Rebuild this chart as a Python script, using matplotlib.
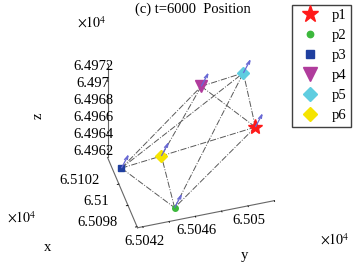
import matplotlib
matplotlib.use("Agg")
import matplotlib.pyplot as plt
from matplotlib.ticker import FuncFormatter

plt.rcParams['font.family'] = ['Liberation Serif', 'DejaVu Serif']
plt.rcParams['mathtext.fontset'] = 'stix'

# positions of the six points at t=6000 (m)
names = ['p1', 'p2', 'p3', 'p4', 'p5', 'p6']
px = [65100.9, 65099.0, 65102.6, 65102.4, 65102.1, 65100.75]
py = [65051.6, 65044.8, 65042.0, 65048.0, 65051.1, 65044.4]
pz = [64966.0, 64961.0, 64962.0, 64970.0, 64971.0, 64965.0]

# velocity direction arrows
vx = [0.0, 0.0, 0.0, 0.0, 0.0, 0.0]
vy = [0.5, 0.5, 0.5, 0.5, 0.5, 0.5]
vz = [1.3, 1.3, 1.3, 1.3, 1.3, 1.3]

# links between points (index pairs)
links = [(0, 1), (0, 3), (0, 4), (0, 5),
         (2, 1), (2, 3), (2, 4), (2, 5),
         (1, 4), (1, 5), (3, 4), (3, 5)]

markers = ['*', 'o', 's', 'v', 'D', 'D']
colors = ['#ff1a1a', '#3cb83c', '#1f3f9f', '#b03c9c', '#5fcde0', '#f5e400']
msizes = [11, 4, 4.5, 9, 6.5, 6.5]

xticks = [65098, 65100, 65102]
yticks = [65042, 65044, 65046, 65048, 65050, 65052]
ylabeled = [65042, 65046, 65050]
zticks = [64962, 64964, 64966, 64968, 64970, 64972]

xlim = (65097.9, 65104.5)
ylim = (65041.6, 65052.0)
zlim = (64961.0, 64972.0)


def lab(v):
    return f"{round(v / 1e4, 4):g}"


fig = plt.figure(figsize=(3.54, 2.65), dpi=100)
ax = fig.add_axes([0.155, 0.029, 0.75, 0.92], projection='3d')
ax.set_proj_type('ortho')

for i, j in links:
    ax.plot([px[i], px[j]], [py[i], py[j]], [pz[i], pz[j]],
            color='0.35', lw=0.7, ls='-.')

ax.quiver(px, py, pz, vx, vy, vz, color='#6868d4', lw=0.9,
          arrow_length_ratio=0.35)

for k in range(6):
    ax.plot([px[k]], [py[k]], [pz[k]], ls='none', marker=markers[k],
            color=colors[k], mec=colors[k], ms=msizes[k], label=names[k])

ax.set_xlim(*xlim)
ax.set_ylim(ylim[1], ylim[0])
ax.set_zlim(*zlim)
ax.set_box_aspect((107, 142, 128), zoom=0.875)
ax.view_init(elev=43, azim=163.8)
ax.zaxis.set_ticks_position('lower')

ax.set_xticks(xticks)
ax.set_xticklabels([''] * len(xticks))
ax.set_yticks(yticks)
ax.set_yticklabels([''] * len(yticks))
ax.set_zticks(zticks)
ax.zaxis.set_major_formatter(FuncFormatter(lambda v, p: lab(v)))

# x and y tick labels placed next to their ticks, as in the original
for v in xticks:
    ax.text(v, ylim[0] - 1.45, zlim[0] + 0.9, lab(v), ha='right',
            va='center', fontsize=10.5)
for v in ylabeled:
    ax.text(xlim[0] - 0.3, v, zlim[0] - 1.3, lab(v), ha='center',
            va='center', fontsize=10.5)

ax.grid(False)
for axis in (ax.xaxis, ax.yaxis, ax.zaxis):
    axis.set_pane_color((1, 1, 1, 0))
    axis.pane.set_edgecolor((1, 1, 1, 0))
    axis.line.set_color('0.4')
    axis.line.set_linewidth(0.8)
    axis._axinfo['tick']['inward_factor'] = 0.15
    axis._axinfo['tick']['outward_factor'] = 0.0
    axis._axinfo['tick']['linewidth'] = {True: 0.6, False: 0.5}
    axis._axinfo['tick']['color'] = '0.4'
ax.tick_params(labelsize=10.5, pad=0)

fig.text(0.545, 0.965, '(c) t=6000  Position', ha='center', va='center',
         fontsize=10.5)
fig.text(0.26, 0.915, r'$\times10^{4}$', ha='center', va='center',
         fontsize=10)
fig.text(0.062, 0.178, r'$\times10^{4}$', ha='center', va='center',
         fontsize=10)
fig.text(0.945, 0.095, r'$\times10^{4}$', ha='center', va='center',
         fontsize=10)
fig.text(0.108, 0.565, 'z', rotation=90, ha='center', va='center',
         fontsize=10.5)
fig.text(0.133, 0.065, 'x', ha='center', va='center', fontsize=10.5)
fig.text(0.69, 0.035, 'y', ha='center', va='center', fontsize=10.5)

fig.legend(loc='upper left', bbox_to_anchor=(0.825, 0.983),
           fancybox=False, edgecolor='0.25', framealpha=1,
           fontsize=10.5, handlelength=1.8, handletextpad=0.6,
           labelspacing=0.47, borderpad=0.3, borderaxespad=0,
           markerscale=1.15)

fig.savefig('out.png', dpi=100)
